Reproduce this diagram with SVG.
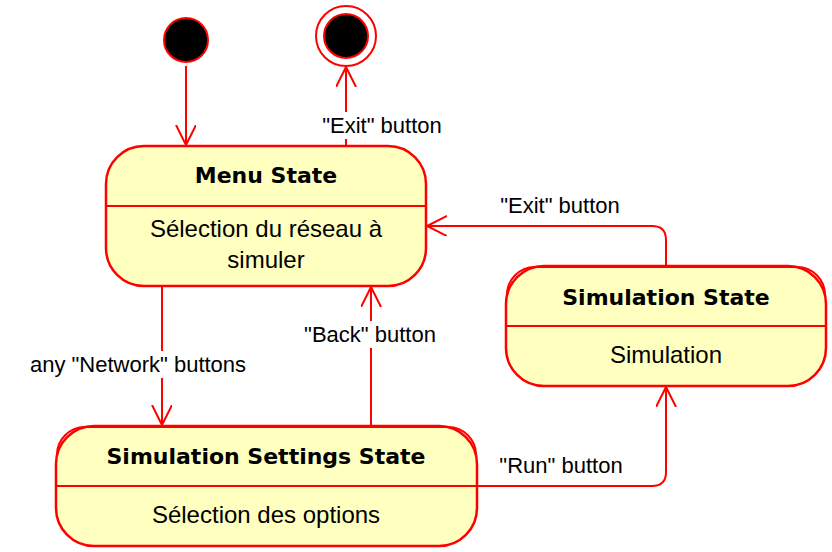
<svg xmlns="http://www.w3.org/2000/svg" width="832" height="552" viewBox="0 0 832 552">
<style>
.node{fill:#ffffc0;stroke:#ff0000;stroke-width:2.5}
.dbl{fill:none;stroke:#ff0000;stroke-width:2}
.div{stroke:#ff0000;stroke-width:2}
.title{font-family:"DejaVu Sans",Verdana,sans-serif;font-weight:bold;font-size:22px;text-anchor:middle;fill:#000}
.body{font-family:"Liberation Sans",Arial,sans-serif;font-size:24px;text-anchor:middle;fill:#000}
.lbl{font-family:"Liberation Sans",Arial,sans-serif;font-size:22px;text-anchor:middle;fill:#000}
.edge{fill:none;stroke:#ff0000;stroke-width:2}
.bg{fill:#ffffff}
</style>
<defs>
<marker id="arr" markerWidth="24" markerHeight="24" refX="20" refY="10" orient="auto" markerUnits="userSpaceOnUse">
<path d="M0,0 L20,10 L0,20" fill="none" stroke="#ff0000" stroke-width="2"/>
</marker>
</defs>
<g id="initial">
<circle cx="186" cy="40" r="22" fill="#000" stroke="#ff0000" stroke-width="2"/>
</g>
<g id="final">
<circle cx="346" cy="36" r="30" fill="#fff" stroke="#ff0000" stroke-width="2"/>
<circle cx="346" cy="36" r="22" fill="#000" stroke="#ff0000" stroke-width="2"/>
</g>
<g id="connectors">
<path class="edge" d="M186,66 L186,145" marker-end="url(#arr)"/>
<path class="edge" d="M346,146 L346,67" marker-end="url(#arr)"/>
<path class="edge" d="M162,286 L162,425" marker-end="url(#arr)"/>
<path class="edge" d="M371,426 L371,287" marker-end="url(#arr)"/>
<path class="edge" d="M666,266 L666,240 Q666,226 652,226 L427,226" marker-end="url(#arr)"/>
<path class="edge" d="M477,486 L652,486 Q666,486 666,472 L666,387" marker-end="url(#arr)"/>
<rect class="bg" x="320" y="112" width="124" height="27"/>
<text class="lbl" x="382" y="133">"Exit" button</text>
<rect class="bg" x="26" y="351" width="224" height="27"/>
<text class="lbl" x="138" y="372">any "Network" buttons</text>
<rect class="bg" x="304" y="321" width="132" height="27"/>
<text class="lbl" x="370" y="342">"Back" button</text>
<text class="lbl" x="560" y="213">"Exit" button</text>
<text class="lbl" x="561" y="473">"Run" button</text>
</g>
<g id="menu">
<rect class="node" x="106" y="146" width="320" height="140" rx="38" ry="38"/>
<line class="div" x1="106" y1="206" x2="426" y2="206"/>
<text class="title" x="266" y="183">Menu State</text>
<text class="body" x="266" y="237">Sélection du réseau à</text>
<text class="body" x="266" y="268">simuler</text>
</g>
<g id="settings">
<rect class="node" x="56" y="426" width="421" height="120" rx="38" ry="38"/>
<path class="dbl" d="M57,456 A28,28 0 0 1 85,427 L448,427 A28,28 0 0 1 476,456"/>
<line class="div" x1="56" y1="486" x2="477" y2="486"/>
<text class="title" x="266" y="464">Simulation Settings State</text>
<text class="body" x="266" y="523">Sélection des options</text>
</g>
<g id="simulation">
<rect class="node" x="506" y="266" width="320" height="120" rx="38" ry="38"/>
<path class="dbl" d="M507,296 A28,28 0 0 1 535,267 L797,267 A28,28 0 0 1 825,296"/>
<line class="div" x1="506" y1="326" x2="826" y2="326"/>
<text class="title" x="666" y="305">Simulation State</text>
<text class="body" x="666" y="363">Simulation</text>
</g>
</svg>
